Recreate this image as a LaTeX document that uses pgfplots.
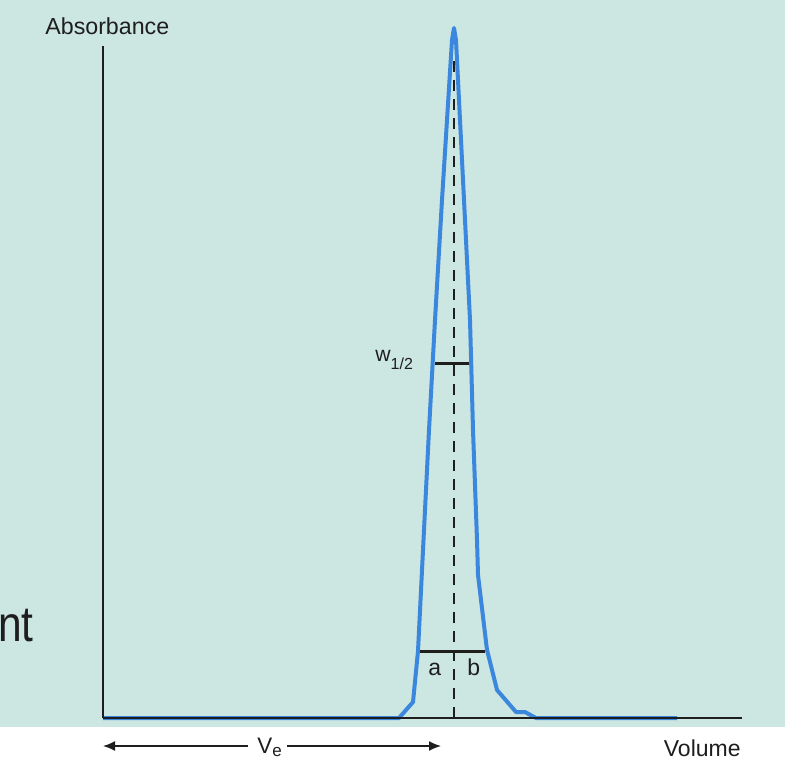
\documentclass[border=0pt]{standalone}
\usepackage{pgfplots}
\pgfplotsset{compat=1.18}
\usepackage{fontspec}
\setmainfont{Liberation Sans}
\usetikzlibrary{arrows.meta}

\definecolor{bgteal}{RGB}{204,230,225}
\definecolor{peakblue}{RGB}{59,135,221}
\definecolor{ink}{RGB}{30,30,30}

\begin{document}
\begin{tikzpicture}
  % page background, 1 unit = 1 reference pixel
  \begin{scope}[x=0.5pt,y=-0.5pt]
    \fill[white] (0,0) rectangle (785,759);
    \fill[bgteal] (0,0) rectangle (785,727);
  \end{scope}

  \begin{axis}[
    at={(51.5pt,-359pt)}, anchor=south west,
    scale only axis,
    width=319.5pt, height=336pt,
    xmin=0, xmax=31.95,
    ymin=0, ymax=0.9739,
    axis x line=bottom, axis y line=left,
    axis line style={-, line width=1pt, ink},
    ticks=none,
    clip=false,
    axis on top,
  ]
    % elution peak
    \addplot[peakblue, line width=2pt, line join=round] coordinates {
      (0, 0)
      (14.8, 0)
      (15.5, 0.0232)
      (15.75, 0.0971)
      (16.0, 0.2435)
      (16.3, 0.4174)
      (16.6, 0.5768)
      (16.95, 0.7507)
      (17.45, 0.9826)
      (17.55, 1.0)
      (17.65, 0.9826)
      (18.05, 0.7507)
      (18.35, 0.5768)
      (18.5, 0.4174)
      (18.7, 0.2580)
      (18.75, 0.2072)
      (19.2, 0.0986)
      (19.7, 0.0406)
      (20.65, 0.0087)
      (21.1, 0.0087)
      (21.65, 0)
      (28.7, 0)
    };
    % peak position
    \addplot[ink, line width=1pt, dash pattern=on 5.5pt off 4pt] coordinates {
      (17.55, 0) (17.55, 0.9536)
    };
    % width at half height
    \addplot[ink, line width=1.5pt] coordinates {(16.6, 0.5145) (18.3, 0.5145)};
    % a / b line
    \addplot[ink, line width=1.5pt] coordinates {(15.85, 0.0971) (19.1, 0.0971)};
  \end{axis}

  \begin{scope}[x=0.5pt,y=-0.5pt, every node/.style={inner sep=0pt, text=ink}]
    \node[anchor=base west] at (45,35) {\fontsize{11.6}{13}\selectfont Absorbance};
    \node[anchor=base east] at (741,756) {\fontsize{11.5}{13}\selectfont Volume};
    \node[anchor=base west] at (257,753)
      {\fontsize{11.2}{13}\selectfont V\raisebox{-1.6pt}{\fontsize{8.5}{10}\selectfont e}};
    \node[anchor=base west] at (375,361)
      {\fontsize{10.6}{12}\selectfont w\raisebox{-4pt}{\fontsize{8}{10}\selectfont 1/2}};
    \node[anchor=base west] at (428,675) {\fontsize{11.5}{13}\selectfont a};
    \node[anchor=base west] at (467,675) {\fontsize{11.5}{13}\selectfont b};
    \node[anchor=base west, xscale=0.85] at (-2,641) {\fontsize{25}{28}\selectfont nt};

    \draw[ink, line width=0.8pt, -{Latex[length=6pt,width=5pt]}] (248,746) -- (103,746);
    \draw[ink, line width=0.8pt, -{Latex[length=6pt,width=5pt]}] (287,746) -- (441,746);

    \pgfresetboundingbox
    \path[use as bounding box] (0,0) rectangle (785,759);
  \end{scope}
\end{tikzpicture}
\end{document}
